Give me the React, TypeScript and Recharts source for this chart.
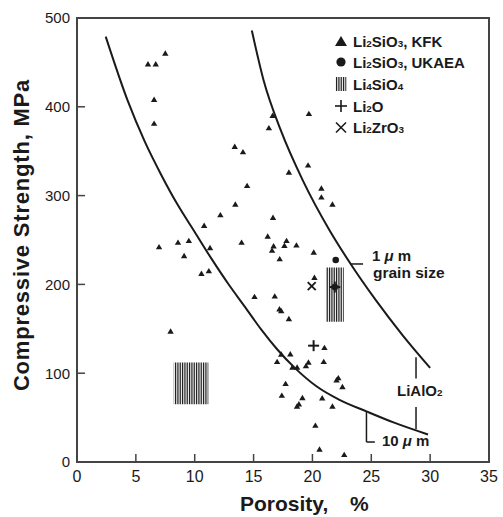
import {
  ComposedChart,
  Line,
  Scatter,
  XAxis,
  YAxis,
  ReferenceArea,
  ReferenceLine,
} from 'recharts';

// Li2SiO3, KFK (triangles)
const kfkPorosity = [
  6.03, 6.69, 7.5, 6.55, 6.55, 13.4, 14.1, 14.45, 13.45, 12.18, 10.8, 8.58, 9.5, 6.97, 9.1, 11.3,
  10.57, 11.2, 13.98, 16.62, 16.3, 19.7, 19.63, 18.0, 20.76, 20.76, 21.7, 16.65, 16.2, 16.7, 16.57,
  17.8, 17.62, 18.64, 17.22, 20.11, 20.17, 15.08, 16.8, 17.2, 17.35, 18.0, 7.95, 21.02, 17.35, 18.12,
  17.0, 18.3, 18.7, 19.45, 19.66, 20.96, 22.2, 22.05, 22.55, 17.72, 17.4, 19.15, 20.83, 21.7, 18.69,
  18.85, 20.25, 20.6, 22.7,
];
const kfkStrength = [
  448, 448, 460, 408, 381, 355, 349, 311, 290, 278, 266, 247, 249, 242, 232, 241,
  212, 215, 247, 390, 376, 392, 334, 326, 308, 298, 290, 275, 254, 243, 238,
  249, 243.5, 244, 228.5, 236, 207.5, 186, 186.5, 172, 170, 161, 147, 128.5, 121, 121.4,
  112.7, 106.5, 106.5, 108, 112, 112.7, 94.5, 92, 84.5, 88, 74.7, 72, 71.8, 62.5, 62.5,
  65, 41, 14, 8,
];

// Li2SiO3, UKAEA (circles)
const ukaeaPorosity = [21.98, 21.9];
const ukaeaStrength = [227.5, 197];

// Li2O (plus)
const li2oPorosity = [20.1, 21.9];
const li2oStrength = [131, 197];

// Li2ZrO3 (cross)
const li2zro3Porosity = [19.94];
const li2zro3Strength = [198];

// Li4SiO4 (hatched ranges)
const li4sio4PorosityLo = [8.22, 21.15];
const li4sio4PorosityHi = [11.16, 22.66];
const li4sio4StrengthLo = [65, 158];
const li4sio4StrengthHi = [112, 219];

// LiAlO2 curves, 10 um and 1 um grain size
const curve10Porosity = [2.44, 4.33, 5.75, 7.17, 8.58, 10.0, 11.42, 12.83, 14.25, 15.69, 17.0, 18.5, 20.34, 22.3, 24.59, 27.0, 29.82];
const curve10Strength = [479, 406, 361, 323, 289, 259, 229, 201, 175, 148.5, 127, 106, 85.3, 70, 57, 44, 31];
const curve1Porosity = [14.85, 15.85, 17.3, 19.15, 21.45, 23.25, 25.4, 27.65, 30.0];
const curve1Strength = [486, 430, 374, 318, 261, 223, 182, 143, 106];

const xTicks = [0, 5, 10, 15, 20, 25, 30, 35];
const yTicks = [0, 100, 200, 300, 400, 500];

const FONT = '"Liberation Sans", Arial, Helvetica, sans-serif';
const INK = '#1a1a1a';

const zip = (xs: number[], ys: number[]) => xs.map((x, i) => ({ x, y: ys[i] }));

const kfkData = zip(kfkPorosity, kfkStrength);
const ukaeaData = zip(ukaeaPorosity, ukaeaStrength);
const li2oData = zip(li2oPorosity, li2oStrength);
const li2zro3Data = zip(li2zro3Porosity, li2zro3Strength);
const curve10Data = zip(curve10Porosity, curve10Strength);
const curve1Data = zip(curve1Porosity, curve1Strength);

function TriangleDot(props: any) {
  const { cx, cy } = props;
  return <polygon points={`${cx},${cy - 3.2} ${cx - 3.2},${cy + 2.2} ${cx + 3.2},${cy + 2.2}`} fill={INK} />;
}

function CircleDot(props: any) {
  const { cx, cy } = props;
  return <circle cx={cx} cy={cy} r={3.3} fill={INK} />;
}

function PlusDot(props: any) {
  const { cx, cy } = props;
  return (
    <g stroke={INK} strokeWidth={2}>
      <line x1={cx - 5.5} y1={cy} x2={cx + 5.5} y2={cy} />
      <line x1={cx} y1={cy - 5.5} x2={cx} y2={cy + 5.5} />
    </g>
  );
}

function CrossDot(props: any) {
  const { cx, cy } = props;
  return (
    <g stroke={INK} strokeWidth={1.8}>
      <line x1={cx - 4} y1={cy - 4} x2={cx + 4} y2={cy + 4} />
      <line x1={cx - 4} y1={cy + 4} x2={cx + 4} y2={cy - 4} />
    </g>
  );
}

// digits become small subscripts
function Formula({ text, size }: { text: string; size: number }) {
  return (
    <>
      {text.split(/(\d)/).filter(Boolean).map((p, i) =>
        /^\d$/.test(p) ? (
          <tspan key={i} fontSize={size * 0.66}>{p}</tspan>
        ) : (
          <tspan key={i}>{p}</tspan>
        ),
      )}
    </>
  );
}

const legendRows = [
  { label: 'Li2SiO3, KFK', y: 41 },
  { label: 'Li2SiO3, UKAEA', y: 62 },
  { label: 'Li4SiO4', y: 84 },
  { label: 'Li2O', y: 106 },
  { label: 'Li2ZrO3', y: 127.5 },
];

function Overlay() {
  const lx = 341;
  return (
    <svg width={503} height={517} style={{ position: 'absolute', left: 0, top: 0, pointerEvents: 'none' }}>
      <defs>
        <pattern id="lhatch" patternUnits="userSpaceOnUse" width="1.75" height="4">
          <rect x="0" y="0" width="0.9" height="4" fill="#111" />
        </pattern>
      </defs>
      <g fontFamily={FONT} fill={INK} fontWeight="bold">
        <text transform="translate(29,235) rotate(-90)" textAnchor="middle" fontSize={22} letterSpacing={0.8}>
          Compressive Strength, MPa
        </text>
        <text x={240} y={511} fontSize={21}>Porosity,</text>
        <text x={350} y={511} fontSize={21}>%</text>

        {/* legend */}
        <polygon points={`${lx},${legendRows[0].y - 5} ${lx - 6},${legendRows[0].y + 5} ${lx + 6},${legendRows[0].y + 5}`} />
        <circle cx={lx} cy={legendRows[1].y} r={4.6} />
        <rect x={lx - 5.5} y={legendRows[2].y - 7} width={11} height={14} fill="url(#lhatch)" />
        <g stroke={INK} strokeWidth={1.6}>
          <line x1={lx - 6} y1={legendRows[3].y} x2={lx + 6} y2={legendRows[3].y} />
          <line x1={lx} y1={legendRows[3].y - 6} x2={lx} y2={legendRows[3].y + 6} />
          <line x1={lx - 5} y1={legendRows[4].y - 5} x2={lx + 5} y2={legendRows[4].y + 5} />
          <line x1={lx - 5} y1={legendRows[4].y + 5} x2={lx + 5} y2={legendRows[4].y - 5} />
        </g>
        {legendRows.map((r) => (
          <text key={r.label} x={353} y={r.y + 5.5} fontSize={15}>
            <Formula text={r.label} size={15} />
          </text>
        ))}

        {/* annotations */}
        <text x={372} y={261} fontSize={15}>
          1 <tspan fontStyle="italic">μ</tspan> m
        </text>
        <text x={373} y={278} fontSize={15.5}>grain size</text>
        <text x={397} y={396} fontSize={15}>
          <Formula text="LiAlO2" size={15} />
        </text>
        <text x={382} y={446} fontSize={15}>
          10 <tspan fontStyle="italic">μ</tspan> m
        </text>
      </g>
    </svg>
  );
}

export default function App() {
  const axisStroke = { stroke: '#444', strokeWidth: 2 };
  return (
    <div style={{ position: 'absolute', left: 0, top: 0, width: 503, height: 517, background: '#fff' }}>
      <ComposedChart width={503} height={517} margin={{ top: 18, right: 14, bottom: 0, left: 0 }}>
        <defs>
          <pattern id="vhatch" patternUnits="userSpaceOnUse" width="1.75" height="4">
            <rect x="0" y="0" width="0.9" height="4" fill="#111" />
          </pattern>
        </defs>
        <XAxis
          type="number"
          dataKey="x"
          domain={[0, 35]}
          ticks={xTicks}
          interval={0}
          allowDataOverflow
          height={55}
          tickSize={-8}
          tickMargin={17}
          axisLine={axisStroke}
          tickLine={{ stroke: '#444', strokeWidth: 1.5 }}
          tick={{ fill: INK, fontSize: 16, fontFamily: FONT }}
        />
        <YAxis
          type="number"
          dataKey="y"
          domain={[0, 500]}
          ticks={yTicks}
          interval={0}
          allowDataOverflow
          width={77}
          tickSize={-8}
          tickMargin={15}
          axisLine={axisStroke}
          tickLine={{ stroke: '#444', strokeWidth: 1.5 }}
          tick={{ fill: INK, fontSize: 15, fontFamily: FONT }}
        />
        <ReferenceArea x1={0} x2={35} y1={0} y2={500} fill="none" stroke="#444" strokeWidth={2} />
        {li4sio4PorosityLo.map((lo, i) => (
          <ReferenceArea
            key={i}
            x1={lo}
            x2={li4sio4PorosityHi[i]}
            y1={li4sio4StrengthLo[i]}
            y2={li4sio4StrengthHi[i]}
            fill="url(#vhatch)"
            fillOpacity={1}
            stroke="none"
          />
        ))}
        <Line data={curve10Data} dataKey="y" type="monotone" stroke={INK} strokeWidth={2} dot={false} isAnimationActive={false} />
        <Line data={curve1Data} dataKey="y" type="monotone" stroke={INK} strokeWidth={2} dot={false} isAnimationActive={false} />
        {/* leader lines */}
        <ReferenceLine segment={[{ x: 23.25, y: 223 }, { x: 24.3, y: 223 }]} stroke={INK} strokeWidth={1.5} />
        <ReferenceLine segment={[{ x: 28.8, y: 118 }, { x: 28.8, y: 94 }]} stroke={INK} strokeWidth={1.5} />
        <ReferenceLine segment={[{ x: 28.8, y: 62 }, { x: 28.8, y: 37 }]} stroke={INK} strokeWidth={1.5} />
        <ReferenceLine segment={[{ x: 24.59, y: 57 }, { x: 24.59, y: 22.5 }]} stroke={INK} strokeWidth={1.5} />
        <ReferenceLine segment={[{ x: 24.59, y: 22.5 }, { x: 25.3, y: 22.5 }]} stroke={INK} strokeWidth={1.5} />
        <Scatter data={kfkData} shape={TriangleDot} isAnimationActive={false} />
        <Scatter data={ukaeaData} shape={CircleDot} isAnimationActive={false} />
        <Scatter data={li2oData} shape={PlusDot} isAnimationActive={false} />
        <Scatter data={li2zro3Data} shape={CrossDot} isAnimationActive={false} />
      </ComposedChart>
      <Overlay />
    </div>
  );
}
